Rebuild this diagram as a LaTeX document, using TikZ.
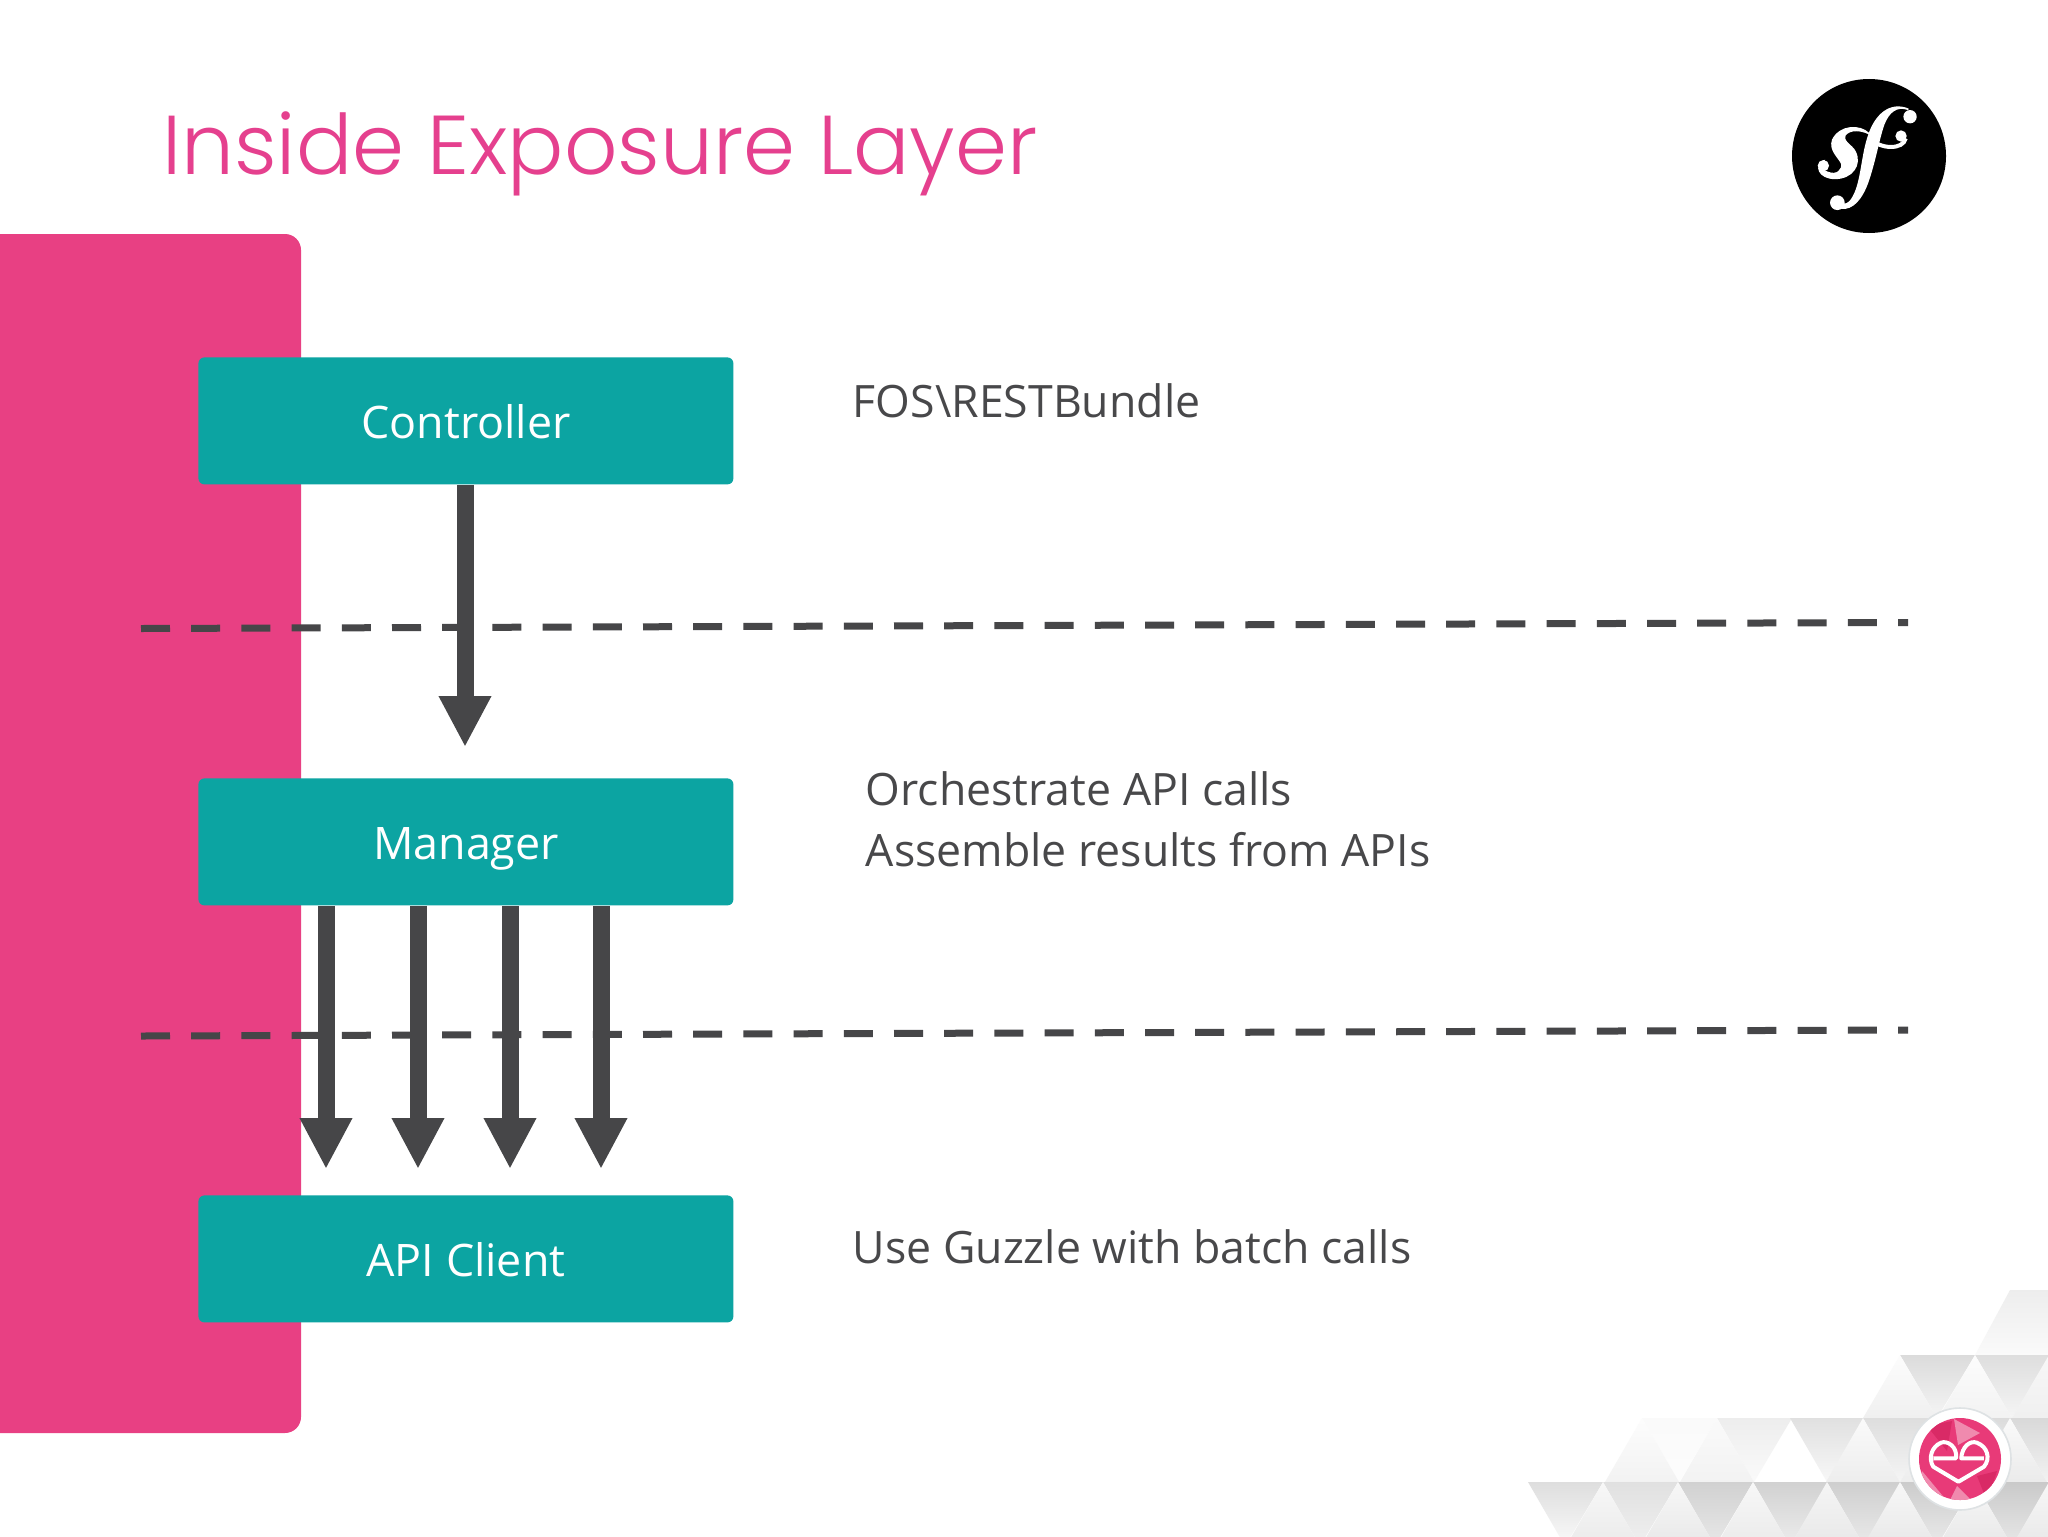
\documentclass[tikz,border=0pt]{standalone}
\usepackage{fontspec}
\setmainfont{Open Sans}
\newfontfamily\titlefont{Poppins Light}
\usetikzlibrary{arrows.meta,calc}
\definecolor{pinkbar}{HTML}{E84083}
\definecolor{titlepink}{HTML}{E5408E}
\definecolor{tealbox}{HTML}{0CA4A2}
\definecolor{inkdark}{HTML}{464648}
\definecolor{labelgray}{HTML}{48484A}
\definecolor{eepink}{HTML}{E83A78}
\definecolor{eelight}{HTML}{F08AAE}
\definecolor{eedeep}{HTML}{D92A66}
\tikzset{
  layerbox/.style={draw=none,fill=tealbox,rounded corners=3pt,minimum width=267.5pt,minimum height=63.5pt,inner sep=0pt,anchor=north west},
  boxlabel/.style={anchor=base,inner sep=0pt,text=white,font=\fontsize{22.4}{27}\selectfont},
  sidenote/.style={anchor=base west,inner sep=0pt,text=labelgray,font=\fontsize{22.3}{27}\selectfont},
  flow/.style={draw=inkdark,line width=8.5pt,-{Triangle[width=24.5pt,length=25.5pt]}},
  boundary/.style={draw=inkdark,line width=3.5pt,dash pattern=on 14.5pt off 10.6pt},
}
\begin{document}
\begin{tikzpicture}[x=0.5pt,y=-0.5pt]
\useasboundingbox (0,0) rectangle (2048,1536);
\fill[white] (0,0) rectangle (2048,1536);
% faceted background
\begin{scope}
\clip (0,0) rectangle (2048,1536);
% row 0: pale band
\shade[top color=black!7,bottom color=black!2] (2010,1290) -- (2060,1290) -- (2060,1355) -- (1975,1355) -- cycle;
% row 1
\foreach \x/\s/\e in {1900/14/4,1975/13/4}{
  \shade[top color=black!\s,bottom color=black!\e] (\x,1355) -- (\x+75,1355) -- (\x+37,1418) -- cycle;
}
\foreach \x/\s/\e in {1900/1/6,1975/1/5,2049/3/6}{
  \shade[top color=black!\s,bottom color=black!\e] (\x,1355) -- (\x+37,1418) -- (\x-37,1418) -- cycle;
}
% row 2
\foreach \x/\s/\e in {1642/2/1,1717/7/2,1790/12/3,1863/13/4,1937/14/4,2010/15/5}{
  \shade[top color=black!\s,bottom color=black!\e] (\x,1418) -- (\x+75,1418) -- (\x+37,1482) -- cycle;
}
\foreach \x/\s/\e in {1642/1/5,1717/2/5,1863/2/7,1937/2/7,2010/2/8}{
  \shade[top color=black!\s,bottom color=black!\e] (\x,1418) -- (\x+37,1482) -- (\x-37,1482) -- cycle;
}
% row 3
\foreach \x/\s/\e in {1528/13/2,1603/12/6,1678/18/9,1753/18/7,1827/19/8,1900/20/8,1975/21/9}{
  \shade[top color=black!\s,bottom color=black!\e] (\x,1482) -- (\x+75,1482) -- (\x+37,1546) -- cycle;
}
\foreach \x/\s/\e in {1603/3/8,1678/3/9,1753/3/8,1827/4/9,1900/3/9,1975/3/9,2049/3/9}{
  \shade[top color=black!\s,bottom color=black!\e] (\x,1482) -- (\x+37,1546) -- (\x-37,1546) -- cycle;
}
\end{scope}
% pink band
\fill[pinkbar,rounded corners=8pt] (-40,234) rectangle (301,1433);
% dashed boundaries
\coordinate (d1a) at (141,628.5);
\coordinate (d1b) at (1908,622.5);
\coordinate (d2a) at (141,1036);
\coordinate (d2b) at (1908,1030);
\draw[boundary] (d1a) -- (d1b);
\draw[boundary] (d2a) -- (d2b);
% boxes
\node[layerbox] (ctrl) at (198,357) {};
\node[layerbox] (mgr) at (198,778) {};
\node[layerbox] (api) at (198,1195) {};
\node[boxlabel] (ctrltext) at (466,438) {Controller};
\node[boxlabel] (mgrtext) at (466,859) {Manager};
\node[boxlabel] (apitext) at (466,1276) {API Client};
% arrows
\coordinate (t0) at (465,747);
\draw[flow] (ctrl.south -| t0) -- (t0);
\foreach \i/\x in {1/326,2/418,3/510,4/601}{
  \coordinate (t\i) at (\x,1169);
  \draw[flow] (mgr.south -| t\i) -- (t\i);
}
% side notes
\node[sidenote] (n1) at (852.5,417) {FOS\textbackslash RESTBundle};
\node[sidenote] (n2) at (865.5,805) {Orchestrate API calls};
\node[sidenote] (n3) at (865.5,866) {Assemble results from APIs};
\node[sidenote] (n4) at (852.5,1263) {Use Guzzle with batch calls};
% title
\node[anchor=base west,inner sep=0pt,text=titlepink,font=\titlefont\fontsize{41.75}{50}\selectfont] (title) at (162,174) {Inside Exposure Layer};
% sf logo
\fill[black] (1869,156) circle[radius=77];
\begin{scope}[shift={(1740,50)},x=0.1667pt,y=-0.1667pt]
  \filldraw[white,line width=0.8pt] (505,178) .. controls (470,165) and (445,185) .. (430,225)
     .. controls (415,270) and (405,330) .. (385,390)
     .. controls (365,450) and (335,478) .. (305,474)
     .. controls (285,470) and (280,455) .. (292,445)
     .. controls (300,470) and (325,470) .. (340,440)
     .. controls (365,395) and (365,320) .. (385,260)
     .. controls (405,195) and (450,155) .. (505,178) -- cycle;
  \fill[white] (510,200) circle[radius=20];
  \fill[white] (292,458) circle[radius=22];
  \draw[white,line width=2pt] (385,262) .. controls (420,300) and (490,300) .. (497,265);
  \fill[white] (483,258) circle[radius=17];
  \filldraw[white,line width=0.8pt] (385,250) .. controls (360,225) and (300,225) .. (278,270)
     .. controls (268,300) and (295,320) .. (305,340)
     .. controls (310,360) and (290,378) .. (265,368)
     .. controls (245,362) and (240,350) .. (250,335)
     .. controls (225,345) and (235,385) .. (285,385)
     .. controls (335,385) and (365,345) .. (345,305)
     .. controls (335,285) and (305,275) .. (315,255)
     .. controls (330,235) and (365,240) .. (385,250) -- cycle;
  \fill[white] (250,347) circle[radius=17];
\end{scope}
% ee logo
\fill[white] (1960,1459) circle[radius=51];
\draw[cyan!20!black!15,line width=0.8pt] (1960,1459) circle[radius=51];
\begin{scope}
  \clip (1960,1459) circle[radius=41];
  \fill[eepink] (1910,1410) rectangle (2010,1510);
  \begin{scope}[shift={(22,1)}]
  \fill[eelight] (1932,1418) -- (1958,1432) -- (1936,1444) -- cycle;
  \fill[eedeep] (1905,1425) -- (1930,1420) -- (1925,1450) -- cycle;
  \fill[eelight] (1900,1470) -- (1925,1500) -- (1895,1495) -- cycle;
  \fill[eelight] (1935,1485) -- (1955,1505) -- (1925,1505) -- cycle;
  \fill[eedeep] (1955,1475) -- (1975,1470) -- (1965,1500) -- cycle;
  \end{scope}
\end{scope}
% heart-shaped ee mark
\begin{scope}[shift={(1500,1250)},x=0.1747pt,y=-0.1667pt]
  \draw[white,line width=2pt,line join=round]
    (1240,625) -- (1305,625) .. controls (1310,590) and (1280,570) .. (1262,578)
    .. controls (1235,590) and (1225,625) .. (1240,650)
    -- (1312,695) -- (1385,650)
    .. controls (1405,625) and (1395,590) .. (1365,578)
    .. controls (1345,570) and (1322,590) .. (1320,625) -- (1385,625);
\end{scope}
\end{tikzpicture}
\end{document}
